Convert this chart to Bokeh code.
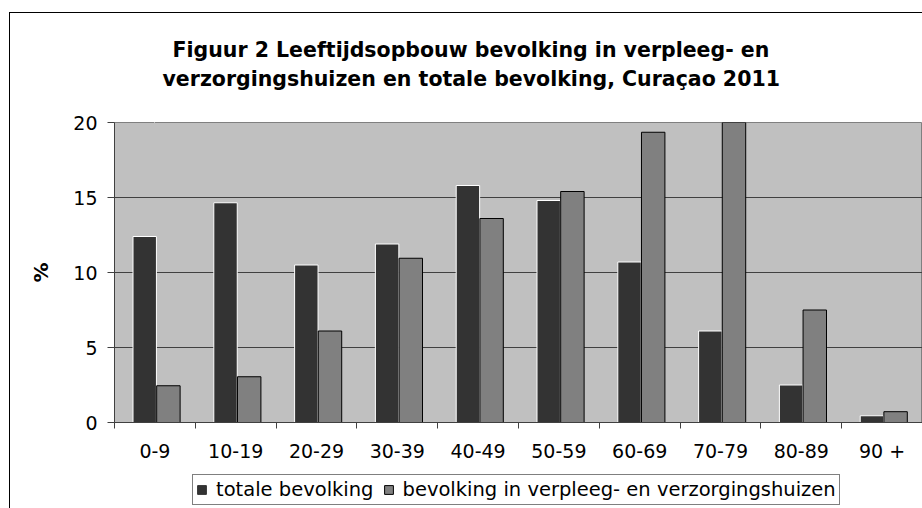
from bokeh.plotting import figure
from bokeh.layouts import column
from bokeh.models import (Range1d, LinearAxis, FixedTicker, Legend, LegendItem, Title,
                          ColumnDataSource, Grid)
from bokeh.transform import dodge
from bokeh.embed import file_html
from bokeh.resources import INLINE

# ---- data ----
categories = ["0-9", "10-19", "20-29", "30-39", "40-49", "50-59", "60-69", "70-79", "80-89", "90 +"]
totale = [12.4, 14.65, 10.5, 11.9, 15.8, 14.8, 10.7, 6.1, 2.5, 0.45]
verpleeg = [2.45, 3.05, 6.1, 10.95, 13.6, 15.4, 19.35, 20.2, 7.5, 0.72]
y_ticks = [0, 5, 10, 15, 20]
grid_ticks = [5, 10, 15]
series_names = ["totale bevolking", "bevolking in verpleeg- en verzorgingshuizen"]
title_lines = ["Figuur 2 Leeftijdsopbouw bevolking in verpleeg- en",
               "verzorgingshuizen en totale bevolking, Curaçao 2011"]
y_label = "%"

n = len(categories)
centers = [i + 0.5 for i in range(n)]
boundaries = list(range(n + 1))

FONT = "DejaVu Sans"
DARK, MID, PLOT_BG = "#333333", "#808080", "#C0C0C0"

source = ColumnDataSource(dict(x=centers, cat=categories, totale=totale, verpleeg=verpleeg))

p = figure(width=922, height=470,
           x_range=Range1d(0, n), y_range=Range1d(0, 20),
           x_axis_type=None, y_axis_type=None,
           output_backend="svg", toolbar_location=None,
           min_border_left=114, min_border_right=0,
           min_border_top=122, min_border_bottom=48)
p.title.visible = False
p.background_fill_color = PLOT_BG
p.border_fill_alpha = 0
p.outline_line_color = MID

# spacer between plot area and title: axis with one white (invisible) tick
spacer = LinearAxis(ticker=FixedTicker(ticks=[centers[0]]),
                    major_label_overrides={centers[0]: ""},
                    major_tick_out=30, major_tick_in=0, minor_tick_out=0, minor_tick_in=0,
                    major_tick_line_color="white", minor_tick_line_color=None,
                    axis_line_color=None, major_label_standoff=0,
                    major_label_text_font_size="1px", major_label_text_color=None)
p.add_layout(spacer, "above")
# title: line 2 nearest the plot, then line 1
p.add_layout(Title(text=title_lines[1], align="left", offset=48, standoff=3,
                   text_font=FONT, text_font_style="bold", text_font_size="20.5px",
                   text_color="black"), "above")
p.add_layout(Title(text=title_lines[0], align="left", offset=58, standoff=3,
                   text_font=FONT, text_font_style="bold", text_font_size="20.5px",
                   text_color="black"), "above")

# y axis
yaxis = LinearAxis(ticker=FixedTicker(ticks=y_ticks), axis_label=y_label)
yaxis.axis_line_color = "#404040"
yaxis.major_tick_line_color = "#404040"
yaxis.major_tick_out = 7
yaxis.major_tick_in = 0
yaxis.minor_tick_line_color = None
yaxis.major_label_standoff = 10
yaxis.major_label_text_font = FONT
yaxis.major_label_text_font_size = "19px"
yaxis.major_label_text_color = "black"
yaxis.axis_label_text_font = FONT
yaxis.axis_label_text_font_size = "20px"
yaxis.axis_label_text_font_style = "bold"
yaxis.axis_label_text_color = "black"
yaxis.axis_label_standoff = 17
p.add_layout(yaxis, "left")

# x axis: labels at category centres, tick marks at category boundaries
xaxis = LinearAxis(ticker=FixedTicker(ticks=centers, minor_ticks=boundaries),
                   major_label_overrides={c: lab for c, lab in zip(centers, categories)})
xaxis.axis_line_color = "#404040"
xaxis.major_tick_out = 0
xaxis.major_tick_in = 0
xaxis.major_tick_line_color = None
xaxis.minor_tick_out = 6
xaxis.minor_tick_in = 0
xaxis.minor_tick_line_color = "#404040"
xaxis.major_label_standoff = 11
xaxis.major_label_text_font = FONT
xaxis.major_label_text_font_size = "19px"
xaxis.major_label_text_color = "black"
p.add_layout(xaxis, "below")

p.add_layout(Grid(dimension=1, ticker=FixedTicker(ticks=grid_ticks),
                  grid_line_color="#404040", grid_line_width=1))

r1 = p.vbar(x=dodge("x", -0.126), top="totale", width=0.29, source=source,
            fill_color=DARK, line_color="white", line_width=1)
r2 = p.vbar(x=dodge("x", 0.167), top="verpleeg", width=0.29, source=source,
            fill_color=MID, line_color="black", line_width=1)

# ---- legend strip below the chart ----
pl = figure(width=922, height=38, x_range=Range1d(0, 1), y_range=Range1d(0, 1),
            x_axis_type=None, y_axis_type=None, output_backend="svg",
            toolbar_location=None, min_border=0)
pl.title.visible = False
pl.outline_line_color = None
pl.background_fill_alpha = 0
pl.border_fill_alpha = 0
pl.xgrid.visible = False
pl.ygrid.visible = False
# legend keys: same series, not drawn themselves
l1 = pl.vbar(x="x", top="totale", width=0.29, source=source,
             fill_color=DARK, line_color=DARK, line_width=1, visible=False)
l2 = pl.vbar(x="x", top="verpleeg", width=0.29, source=source,
             fill_color=MID, line_color="black", line_width=1, visible=False)

legend = Legend(items=[LegendItem(label=series_names[0], renderers=[l1]),
                       LegendItem(label=series_names[1], renderers=[l2])],
                orientation="horizontal", location=(78, 3))
legend.border_line_color = "black"
legend.border_line_width = 1
legend.background_fill_color = "white"
legend.background_fill_alpha = 1
legend.inactive_fill_alpha = 0
legend.label_text_font = FONT
legend.label_text_font_size = "19.5px"
legend.label_text_color = "black"
legend.glyph_width = 11
legend.glyph_height = 11
legend.label_standoff = 9
legend.spacing = 9
legend.padding = 3
legend.margin = 0
pl.add_layout(legend)

# outer chart border: left and top edges (page background behind transparent canvases)
p.styles = {"background": ("linear-gradient(#000, #000) 9px 12px / 1px 100% no-repeat, "
                           "linear-gradient(#000, #000) 9px 12px / 100% 1px no-repeat, #fff")}
pl.styles = {"background": "linear-gradient(#000, #000) 9px 0px / 1px 100% no-repeat, #fff"}

layout = column(p, pl, spacing=0)
open("out.html", "w").write(file_html(layout, INLINE))
